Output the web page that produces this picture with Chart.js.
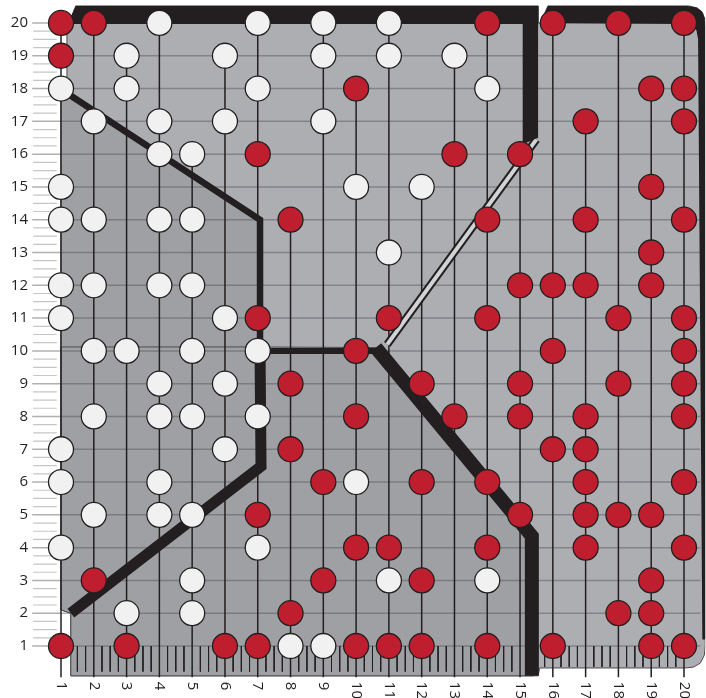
<!DOCTYPE html>
<html>
<head>
<meta charset="utf-8">
<script src="https://cdn.jsdelivr.net/npm/chart.js@4.4.1/dist/chart.umd.min.js"></script>
<style>
  html, body { margin: 0; padding: 0; background: #ffffff; overflow: hidden; }
  #wrap { width: 706px; height: 698px; position: relative; }
</style>
</head>
<body>
<div id="wrap"><canvas id="gridChart"></canvas></div>
<script>
// Axes
const xTicks = [1, 2, 3, 4, 5, 6, 7, 8, 9, 10, 11, 12, 13, 14, 15, 16, 17, 18, 19, 20];
const xLabels = xTicks.map(String);
const yTicks = [1, 2, 3, 4, 5, 6, 7, 8, 9, 10, 11, 12, 13, 14, 15, 16, 17, 18, 19, 20];

// Points (x, y)
const redDots = [
  [1, 20], [1, 19], [1, 1],
  [2, 20], [2, 3],
  [3, 1],
  [6, 1],
  [7, 16], [7, 11], [7, 5], [7, 1],
  [8, 14], [8, 9], [8, 7], [8, 2],
  [9, 6], [9, 3],
  [10, 18], [10, 10], [10, 8], [10, 4], [10, 1],
  [11, 11], [11, 4], [11, 1],
  [12, 9], [12, 6], [12, 3], [12, 1],
  [13, 16], [13, 8],
  [14, 20], [14, 14], [14, 11], [14, 6], [14, 4], [14, 1],
  [15, 16], [15, 12], [15, 9], [15, 8], [15, 5],
  [16, 20], [16, 12], [16, 10], [16, 7], [16, 1],
  [17, 17], [17, 14], [17, 12], [17, 8], [17, 7], [17, 6], [17, 5], [17, 4],
  [18, 20], [18, 11], [18, 9], [18, 5], [18, 2],
  [19, 18], [19, 15], [19, 13], [19, 12], [19, 5], [19, 3], [19, 2], [19, 1],
  [20, 20], [20, 18], [20, 17], [20, 14], [20, 11], [20, 10], [20, 9], [20, 8], [20, 6], [20, 4], [20, 1]
];
const whiteDots = [
  [1, 18], [1, 15], [1, 14], [1, 12], [1, 11], [1, 7], [1, 6], [1, 4],
  [2, 17], [2, 14], [2, 12], [2, 10], [2, 8], [2, 5],
  [3, 19], [3, 18], [3, 10], [3, 2],
  [4, 20], [4, 17], [4, 16], [4, 14], [4, 12], [4, 9], [4, 8], [4, 6], [4, 5],
  [5, 16], [5, 14], [5, 12], [5, 10], [5, 8], [5, 5], [5, 3], [5, 2],
  [6, 19], [6, 17], [6, 11], [6, 9], [6, 7],
  [7, 20], [7, 18], [7, 10], [7, 8], [7, 4],
  [8, 1],
  [9, 20], [9, 19], [9, 17], [9, 1],
  [10, 15], [10, 6],
  [11, 20], [11, 19], [11, 13], [11, 3],
  [12, 15],
  [13, 19],
  [14, 18], [14, 3]
];

// Regions (polygons in data units)
const panelArea = [[1.18, 19.85], [1.45, 20.52], [15.55, 20.52], [15.55, 20.0], [15.62, 20.0], [15.85, 20.52],
  [20.15, 20.52], [20.4, 20.46], [20.56, 20.33], [20.64, 20.1],
  [20.65, 1.0], [20.62, 0.72], [20.5, 0.48], [20.3, 0.36], [20.05, 0.33], [15.6, 0.33], [15.55, 0.09],
  [1.3, 0.09], [1.3, 2.0], [1.0, 2.1], [1.0, 17.85], [1.18, 17.85], [1.18, 19.85]];
const upperLeftArea = [[1.0, 17.95], [7.07, 14.0], [7.07, 10.12], [1.0, 10.12]];
const lowerLeftArea = [[1.0, 10.12], [7.05, 10.12], [10.7, 10.1], [15.4, 4.3], [15.4, 0.09],
  [1.3, 0.09], [1.3, 2.0], [1.0, 2.1], [1.0, 10.12]];

// Borders
const topBandLeft = [[1.2, 19.97], [1.45, 20.52], [15.55, 20.52], [15.55, 16.5], [15.08, 16.3], [15.08, 19.97]];
const topBandRight = [[15.62, 20.0], [15.85, 20.52], [20.1, 20.52], [20.38, 20.47], [20.55, 20.35], [20.63, 20.15],
  [20.65, 19.9], [20.65, 1.2], [20.56, 1.2], [20.43, 19.5], [20.38, 19.78], [20.25, 19.94], [20.05, 19.97]];
const lineUpperLeft = [[1.15, 17.88], [7.07, 14.0], [7.07, 10.0]];
const lineMiddle = [[7.05, 10.0], [10.8, 10.0]];
const lineLowerLeft = [[7.07, 10.0], [7.1, 6.48], [1.3, 2.0]];
const lineBig = [[10.6, 10.1], [15.36, 4.35], [15.36, 0.09]];
const lineThin = [[15.5, 16.45], [10.95, 10.2]];

const INK = '#231f20';
const toXY = arr => arr.map(p => ({ x: p[0], y: p[1] }));

function shapeSet(points, fillColor, order, border) {
  return {
    data: toXY(points), showLine: true, fill: 'shape', backgroundColor: fillColor,
    borderColor: border ? border : 'rgba(0,0,0,0)', borderWidth: border ? 1 : 0.01,
    pointRadius: 0, order: order
  };
}
function lineSet(points, color, width, order) {
  return {
    data: toXY(points), showLine: true, fill: false, borderColor: color, borderWidth: width,
    borderJoinStyle: 'miter', pointRadius: 0, order: order
  };
}

// stems: each column from its top point down to the axis
const stemPoints = [];
xTicks.forEach(c => {
  const ys = redDots.concat(whiteDots).filter(p => p[0] === c).map(p => p[1]);
  if (!ys.length) return;
  stemPoints.push({ x: c, y: Math.max(...ys) }, { x: c, y: 0.05 }, { x: NaN, y: NaN });
});

// horizontal grid lines and minor ticks
const gridPoints = [];
yTicks.forEach(v => { gridPoints.push({ x: 0.12, y: v }, { x: 20.5, y: v }, { x: NaN, y: NaN }); });
const minorYPoints = [];
for (let v = 1.25; v < 20; v += 0.25) {
  if (Math.abs(v - Math.round(v)) < 0.01) continue;
  minorYPoints.push({ x: 0.15, y: v }, { x: 0.87, y: v }, { x: NaN, y: NaN });
}
const minorXPoints = [];
for (let v = 1.5; v < 20; v += 0.25) {
  if (Math.abs(v - Math.round(v)) < 0.01) continue;
  if (v > 14.8 && v < 15.7) continue;
  const bottom = v < 15.5 ? 0.22 : 0.36;
  minorXPoints.push({ x: v, y: 1.0 }, { x: v, y: bottom }, { x: NaN, y: NaN });
}

const xLabelPlugin = {
  id: 'xLabels',
  afterDraw(chart) {
    const { ctx, scales: { x }, chartArea } = chart;
    ctx.save();
    ctx.font = '15px "Open Sans"';
    ctx.fillStyle = INK;
    ctx.textAlign = 'left';
    ctx.textBaseline = 'middle';
    xTicks.forEach((v, i) => {
      ctx.save();
      ctx.translate(x.getPixelForValue(v), chartArea.bottom + 3);
      ctx.rotate(Math.PI / 2);
      ctx.fillText(xLabels[i], 0, 0);
      ctx.restore();
    });
    ctx.restore();
  }
};

const ctx = document.getElementById('gridChart').getContext('2d');
new Chart(ctx, {
  type: 'scatter',
  data: {
    datasets: [
      shapeSet(panelArea, '#adaeb2', 100, '#4b4b4e'),
      shapeSet(upperLeftArea, '#9fa0a3', 95),
      shapeSet(lowerLeftArea, '#9fa0a3', 94, '#4b4b4e'),
      { data: gridPoints, showLine: true, borderColor: 'rgba(80,80,86,0.45)', borderWidth: 1.5, pointRadius: 0, order: 80 },
      { data: minorYPoints, showLine: true, borderColor: '#c6c6c8', borderWidth: 1.2, pointRadius: 0, order: 79 },
      { data: minorXPoints, showLine: true, borderColor: INK, borderWidth: 1, pointRadius: 0, order: 78 },
      { data: stemPoints, showLine: true, borderColor: INK, borderWidth: 1.5, pointRadius: 0, order: 70 },
      lineSet(lineThin, INK, 8, 62),
      lineSet(lineThin, '#d2d3d5', 4, 61),
      shapeSet(topBandLeft, INK, 55),
      shapeSet(topBandRight, INK, 55),
      lineSet(lineUpperLeft, INK, 6.5, 52),
      lineSet(lineMiddle, INK, 6, 52),
      lineSet(lineLowerLeft, INK, 11, 52),
      lineSet(lineBig, INK, 14, 51),
      {
        data: toXY(whiteDots), pointRadius: 12.5, pointBackgroundColor: '#f1f1f2',
        pointBorderColor: INK, pointBorderWidth: 1.3, order: 2
      },
      {
        data: toXY(redDots), pointRadius: 12.5, pointBackgroundColor: '#be1e2d',
        pointBorderColor: INK, pointBorderWidth: 1.3, order: 1
      }
    ]
  },
  options: {
    responsive: true,
    maintainAspectRatio: false,
    animation: false,
    layout: { autoPadding: false, padding: { top: 3.3, bottom: 19.2, left: 0, right: 0.7 } },
    scales: {
      x: { type: 'linear', min: 0.1, max: 20.65, display: false },
      y: {
        type: 'linear', min: 0, max: 20.6,
        grid: { display: false, drawTicks: false },
        border: { display: false },
        ticks: { autoSkip: false, padding: 3.5, color: INK, font: { family: 'Open Sans', size: 15 } },
        afterBuildTicks(scale) { scale.ticks = yTicks.map(v => ({ value: v })); },
        afterFit(scale) {
          scale.width = 31.5;
          scale.paddingTop = 0;
          scale.paddingBottom = 0;
        }
      }
    },
    plugins: {
      legend: { display: false },
      tooltip: { enabled: false }
    }
  },
  plugins: [xLabelPlugin]
});
</script>
</body>
</html>
